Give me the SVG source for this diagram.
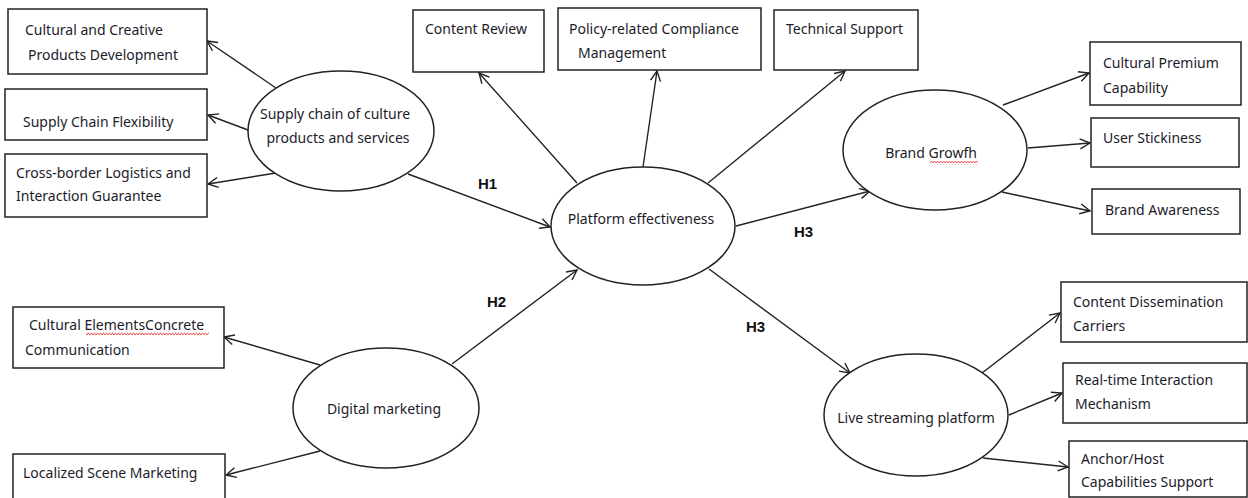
<svg xmlns="http://www.w3.org/2000/svg" width="1248" height="498" viewBox="0 0 1248 498">
<defs>
<marker id="arr" markerUnits="userSpaceOnUse" markerWidth="14" markerHeight="14" refX="11" refY="6" orient="auto">
<path d="M1,1 L11,6 L1,11" fill="none" stroke="#222" stroke-width="1.4"/>
</marker>
<pattern id="wavy" patternUnits="userSpaceOnUse" width="3" height="4">
<path d="M0,3.2 L1.5,0.8 L3,3.2" fill="none" stroke="#e02020" stroke-width="0.7"/>
</pattern>
</defs>
<style>
rect.box{fill:#fff;stroke:#222;stroke-width:1.5}
ellipse.node{fill:#fff;stroke:#222;stroke-width:1.5}
text{font-family:"Noto Sans","Open Sans","DejaVu Sans",sans-serif;font-size:14px;fill:#1c1c2a}
text.c{text-anchor:middle}
text.h{font-family:"Liberation Sans",Arial,sans-serif;font-weight:bold;font-size:15px;fill:#111}
.conn line{stroke:#222;stroke-width:1.4;marker-end:url(#arr)}
.wave{fill:url(#wavy)}
</style>
<rect width="1248" height="498" fill="#fff"/>

<g id="connectors" class="conn">
<line x1="276" y1="88" x2="207" y2="41"/>
<line x1="248" y1="130" x2="208" y2="115"/>
<line x1="276" y1="173" x2="208" y2="184"/>
<line x1="408" y1="174" x2="550" y2="227"/>
<line x1="577" y1="183" x2="479" y2="73"/>
<line x1="643" y1="167" x2="657" y2="71"/>
<line x1="708" y1="183" x2="845" y2="71"/>
<line x1="736" y1="226" x2="870" y2="191"/>
<line x1="709" y1="269" x2="850" y2="373"/>
<line x1="452" y1="364" x2="577" y2="270"/>
<line x1="320" y1="365" x2="224" y2="337"/>
<line x1="320" y1="451" x2="226" y2="475"/>
<line x1="1003" y1="105" x2="1089" y2="73"/>
<line x1="1028" y1="148" x2="1090" y2="143"/>
<line x1="1002" y1="192" x2="1090" y2="211"/>
<line x1="982" y1="373" x2="1060" y2="313"/>
<line x1="1009" y1="415" x2="1062" y2="393"/>
<line x1="983" y1="458" x2="1068" y2="467"/>
</g>

<g id="labels">
<text class="h" x="478" y="189">H1</text>
<text class="h" x="487" y="307">H2</text>
<text class="h" x="794" y="237">H3</text>
<text class="h" x="746" y="332">H3</text>
</g>

<g id="supply">
<ellipse class="node" cx="341" cy="131" rx="93" ry="60"/>
<text class="c" x="335" y="119">Supply chain of culture</text>
<text class="c" x="338" y="143">products and services</text>
</g>
<g id="cultural-creative">
<rect class="box" x="8" y="9" width="199" height="65"/>
<text x="25" y="35">Cultural and Creative</text>
<text x="28" y="60">Products Development</text>
</g>
<g id="supply-flex">
<rect class="box" x="5" y="89" width="202" height="51"/>
<text x="23" y="127">Supply Chain Flexibility</text>
</g>
<g id="cross-border">
<rect class="box" x="5" y="154" width="202" height="63"/>
<text x="16" y="178">Cross-border Logistics and</text>
<text x="16" y="201">Interaction Guarantee</text>
</g>

<g id="platform">
<ellipse class="node" cx="643" cy="226" rx="92" ry="59"/>
<text class="c" x="641" y="224">Platform effectiveness</text>
</g>
<g id="content-review">
<rect class="box" x="413" y="10" width="131" height="62"/>
<text x="425" y="34">Content Review</text>
</g>
<g id="policy">
<rect class="box" x="558" y="8" width="203" height="62"/>
<text x="569" y="34">Policy-related Compliance</text>
<text x="578" y="58">Management</text>
</g>
<g id="technical">
<rect class="box" x="774" y="10" width="144" height="60"/>
<text x="786" y="34">Technical Support</text>
</g>

<g id="brand">
<ellipse class="node" cx="935" cy="150" rx="92" ry="60"/>
<text class="c" x="931" y="158">Brand Growfh</text>
<rect class="wave" x="930" y="161" width="48" height="4"/>
</g>
<g id="premium">
<rect class="box" x="1090" y="42" width="151" height="63"/>
<text x="1103" y="68">Cultural Premium</text>
<text x="1103" y="93">Capability</text>
</g>
<g id="stickiness">
<rect class="box" x="1091" y="118" width="148" height="49"/>
<text x="1103" y="143">User Stickiness</text>
</g>
<g id="awareness">
<rect class="box" x="1092" y="189" width="148" height="45"/>
<text x="1105" y="215">Brand Awareness</text>
</g>

<g id="digital">
<ellipse class="node" cx="386" cy="408" rx="93" ry="60"/>
<text class="c" x="384" y="414">Digital marketing</text>
</g>
<g id="cultural-elements">
<rect class="box" x="13" y="307" width="211" height="61"/>
<text x="29" y="330">Cultural ElementsConcrete</text>
<rect class="wave" x="86" y="332" width="123" height="4"/>
<text x="25" y="355">Communication</text>
</g>
<g id="localized">
<rect class="box" x="13" y="454" width="212" height="50"/>
<text x="23" y="478">Localized Scene Marketing</text>
</g>

<g id="live">
<ellipse class="node" cx="916" cy="415" rx="92" ry="61"/>
<text class="c" x="916" y="423">Live streaming platform</text>
</g>
<g id="dissemination">
<rect class="box" x="1061" y="282" width="186" height="60"/>
<text x="1073" y="307">Content Dissemination</text>
<text x="1073" y="331">Carriers</text>
</g>
<g id="realtime">
<rect class="box" x="1063" y="363" width="184" height="60"/>
<text x="1075" y="385">Real-time Interaction</text>
<text x="1075" y="409">Mechanism</text>
</g>
<g id="anchor">
<rect class="box" x="1069" y="441" width="178" height="56"/>
<text x="1081" y="464">Anchor/Host</text>
<text x="1081" y="487">Capabilities Support</text>
</g>
</svg>
